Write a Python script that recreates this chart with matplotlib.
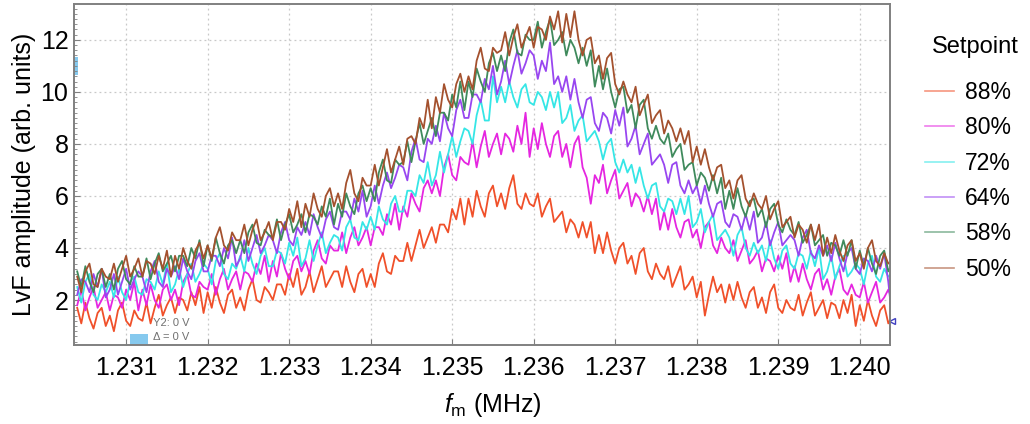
import numpy as np
import matplotlib
matplotlib.use("Agg")
import matplotlib.pyplot as plt
from matplotlib.patches import Rectangle
from matplotlib.ticker import MultipleLocator

plt.rcParams["font.family"] = ["Liberation Sans", "DejaVu Sans"]
plt.rcParams["mathtext.fontset"] = "custom"
plt.rcParams["mathtext.rm"] = "Liberation Sans"
plt.rcParams["mathtext.it"] = "Liberation Sans:italic"

# sweep: 201 points, 1.2304 .. 1.2404 MHz
f_start, f_stop, n_pts = 1.2304, 1.2404, 201
freq = np.linspace(f_start, f_stop, n_pts)

setpoints = ["88%", "80%", "72%", "64%", "58%", "50%"]
colors = ["#f0502a", "#e526e0", "#35e6e6", "#9846f0", "#3f8a5c", "#a4512e"]

amp_88 = [
    1.7, 1.1, 1.9, 1.3, 0.9, 1.5, 1.7, 1.0, 1.4, 0.8, 1.6, 1.9, 1.2, 1.0, 1.6, 1.3,
    1.2, 1.9, 1.1, 1.7, 2.2, 1.4, 1.8, 2.1, 1.5, 2.1, 2.0, 1.6, 2.3, 1.8, 2.5, 1.5,
    2.3, 1.7, 2.5, 1.9, 1.5, 2.2, 2.4, 1.7, 2.1, 1.6, 2.4, 2.8, 2.0, 1.9, 2.5, 2.3,
    2.0, 2.6, 2.6, 2.2, 3.0, 2.5, 3.2, 2.2, 2.5, 3.1, 2.3, 2.8, 3.3, 2.5, 2.8, 3.1,
    3.1, 2.5, 3.3, 2.7, 2.3, 3.0, 3.2, 2.5, 3.0, 2.5, 3.4, 3.8, 3.1, 3.0, 3.7, 3.5,
    3.5, 4.2, 3.5, 4.1, 4.7, 4.0, 4.4, 4.8, 4.2, 4.9, 4.9, 4.6, 5.5, 5.1, 5.9, 4.9,
    5.9, 5.2, 6.2, 5.6, 5.2, 6.1, 6.4, 5.6, 6.1, 5.5, 6.3, 6.8, 5.7, 5.5, 6.1, 5.7,
    5.6, 6.1, 5.2, 5.6, 5.9, 5.0, 5.2, 5.4, 4.6, 5.1, 4.9, 4.4, 5.0, 4.4, 5.0, 3.8,
    4.5, 3.8, 4.6, 3.9, 3.4, 4.0, 4.2, 3.4, 3.7, 3.0, 3.8, 4.0, 3.1, 2.8, 3.4, 3.0,
    2.8, 3.3, 2.5, 2.9, 3.3, 2.4, 2.6, 2.9, 2.1, 2.7, 1.4, 2.2, 2.9, 2.3, 2.6, 1.9,
    2.6, 2.0, 2.7, 2.1, 1.7, 2.3, 2.5, 1.7, 2.1, 1.5, 2.3, 2.6, 1.7, 1.5, 2.0, 1.7,
    1.6, 2.2, 1.4, 1.9, 2.3, 1.4, 1.7, 2.0, 1.3, 1.9, 1.8, 1.3, 2.0, 1.5, 2.2, 1.0,
    1.8, 1.2, 2.0, 1.4, 1.0, 1.6, 1.8, 1.1, 1.4,
]
amp_80 = [
    1.8, 2.4, 1.6, 2.1, 2.5, 1.7, 2.0, 2.3, 1.6, 2.2, 2.1, 1.7, 2.4, 2.0, 2.7, 1.6,
    2.4, 1.8, 2.6, 2.0, 1.7, 2.4, 2.6, 2.0, 2.4, 1.8, 2.7, 3.0, 2.2, 2.1, 2.7, 2.5,
    2.4, 3.0, 2.2, 2.8, 3.2, 2.4, 2.8, 3.1, 2.4, 3.1, 3.0, 2.7, 3.4, 3.0, 3.7, 2.7,
    3.5, 2.9, 3.8, 3.2, 2.8, 3.5, 3.7, 3.1, 3.5, 3.0, 3.9, 4.3, 3.6, 3.4, 4.1, 3.9,
    3.9, 4.6, 3.8, 4.4, 4.8, 4.1, 4.4, 4.8, 4.1, 4.8, 4.8, 4.5, 5.3, 4.9, 5.7, 4.7,
    5.6, 5.2, 6.1, 5.7, 5.4, 6.3, 6.6, 6.1, 6.6, 6.0, 7.1, 7.6, 6.8, 6.6, 7.5, 7.3,
    7.2, 8.1, 7.1, 7.9, 8.5, 7.5, 8.0, 8.4, 7.6, 8.4, 8.2, 7.7, 8.7, 8.0, 9.2, 7.5,
    8.6, 7.8, 8.8, 8.0, 7.5, 8.3, 8.5, 7.5, 8.0, 7.1, 8.0, 8.3, 7.1, 6.7, 5.7, 6.8,
    6.5, 7.2, 6.1, 6.6, 7.0, 5.9, 6.2, 6.5, 5.6, 6.1, 5.9, 5.4, 6.0, 5.3, 5.9, 4.7,
    5.4, 4.7, 5.5, 4.8, 4.4, 5.0, 5.1, 4.4, 4.7, 4.0, 4.8, 5.0, 4.1, 3.8, 4.4, 4.0,
    3.8, 4.3, 3.5, 3.9, 4.3, 3.4, 3.6, 3.9, 3.1, 3.6, 3.5, 3.1, 3.7, 3.2, 3.8, 2.7,
    3.3, 2.7, 3.4, 2.8, 2.4, 3.0, 3.2, 2.4, 2.8, 2.2, 2.9, 3.2, 2.4, 2.2, 2.6, 2.2,
    2.1, 2.7, 1.9, 2.3, 2.7, 1.9, 2.1, 2.4, 2.0,
]
amp_72 = [
    2.5, 1.9, 2.7, 3.0, 2.2, 2.0, 2.6, 2.3, 2.7, 2.1, 2.9, 2.3, 2.0, 2.7, 2.9, 2.3,
    2.2, 2.8, 2.7, 2.4, 3.1, 2.6, 3.4, 2.3, 2.6, 3.2, 2.5, 3.0, 3.4, 2.7, 3.0, 3.4,
    3.2, 2.6, 3.5, 3.8, 3.0, 2.8, 3.4, 3.2, 3.7, 3.1, 4.0, 3.4, 3.0, 3.7, 4.0, 3.3,
    3.3, 3.9, 3.8, 3.4, 4.2, 3.7, 4.4, 3.3, 3.6, 4.3, 3.5, 4.1, 4.6, 3.8, 4.2, 4.5,
    4.4, 3.9, 4.8, 5.1, 4.4, 4.3, 5.0, 4.7, 5.2, 4.7, 5.6, 5.1, 4.9, 5.7, 6.0, 5.4,
    5.4, 6.2, 6.2, 6.0, 6.8, 6.5, 7.3, 6.4, 6.8, 7.7, 6.9, 7.6, 8.3, 7.5, 8.1, 8.6,
    8.5, 8.0, 9.1, 9.7, 8.9, 8.9, 10.6, 9.6, 10.2, 9.6, 10.4, 9.8, 9.4, 10.1, 10.3, 9.6,
    9.5, 10.0, 9.8, 9.3, 10.0, 9.4, 10.0, 8.8, 9.0, 9.5, 8.5, 8.9, 9.1, 8.1, 8.3, 8.5,
    8.1, 7.4, 8.0, 8.2, 7.3, 6.9, 7.4, 6.9, 7.2, 6.5, 7.1, 6.4, 5.9, 6.4, 6.5, 5.6,
    5.4, 5.9, 5.8, 5.3, 5.9, 5.3, 6.0, 4.8, 5.0, 5.5, 4.6, 5.0, 5.3, 4.3, 4.5, 4.7,
    4.4, 3.7, 4.5, 4.8, 4.0, 3.7, 4.2, 3.8, 4.1, 3.5, 4.3, 3.6, 3.2, 3.9, 4.1, 3.4,
    3.2, 3.8, 3.7, 3.2, 3.9, 3.3, 4.0, 2.8, 3.1, 3.7, 2.8, 3.3, 3.7, 2.9, 3.1, 3.4,
    3.2, 2.6, 3.4, 3.7, 2.9, 2.7, 3.2, 2.9, 3.0,
]
amp_64 = [
    2.2, 2.8, 2.7, 2.3, 3.0, 2.5, 3.2, 2.1, 2.4, 3.0, 2.2, 2.7, 3.2, 2.4, 2.8, 3.1,
    2.9, 2.3, 3.1, 3.5, 2.7, 2.5, 3.2, 2.9, 3.3, 2.8, 3.6, 3.1, 2.8, 3.5, 3.8, 3.1,
    3.1, 3.7, 3.7, 3.3, 4.0, 3.6, 4.4, 3.3, 3.6, 4.3, 3.5, 4.0, 4.5, 3.8, 4.1, 4.5,
    4.3, 3.8, 4.6, 5.0, 4.3, 4.1, 4.8, 4.5, 5.0, 4.5, 5.3, 4.8, 4.4, 5.1, 5.4, 4.8,
    4.7, 5.4, 5.4, 5.1, 5.9, 5.4, 6.2, 5.2, 5.6, 6.4, 5.7, 6.4, 6.9, 6.3, 6.7, 7.2,
    7.1, 6.6, 7.7, 8.2, 7.4, 7.3, 8.2, 8.0, 8.7, 8.1, 9.2, 8.6, 8.3, 9.3, 9.7, 9.0,
    9.0, 9.9, 9.9, 9.6, 10.5, 10.1, 11.0, 9.9, 10.4, 11.2, 10.3, 11.0, 11.6, 10.7, 11.1, 11.6,
    11.4, 10.5, 11.2, 10.8, 11.9, 10.3, 10.6, 10.0, 10.6, 9.7, 10.5, 9.6, 9.0, 9.7, 9.8, 8.8,
    8.5, 9.2, 9.0, 8.4, 9.3, 8.7, 9.4, 7.9, 8.2, 8.7, 7.6, 8.0, 8.4, 7.2, 7.4, 7.6,
    7.2, 6.5, 7.2, 7.3, 6.4, 6.1, 6.6, 6.1, 6.4, 5.7, 6.4, 5.7, 5.2, 5.7, 5.8, 5.0,
    4.8, 5.3, 5.2, 4.7, 5.3, 4.7, 5.4, 4.2, 4.4, 5.0, 4.1, 4.6, 5.0, 4.1, 4.3, 4.5,
    4.3, 3.7, 4.4, 4.7, 3.8, 3.6, 4.1, 3.7, 4.1, 3.5, 4.2, 3.6, 3.1, 3.8, 4.0, 3.2,
    3.0, 3.6, 3.5, 3.1, 3.7, 3.2, 3.8, 2.7, 1.2,
]
amp_58 = [
    3.1, 2.5, 3.3, 2.7, 2.3, 3.0, 3.2, 2.5, 3.0, 2.4, 3.2, 3.5, 2.8, 2.6, 3.3, 2.9,
    2.9, 3.6, 2.8, 3.4, 3.8, 3.1, 3.4, 3.7, 3.1, 3.7, 3.7, 3.3, 4.0, 3.6, 4.3, 3.3,
    4.1, 3.5, 4.4, 3.8, 3.4, 4.1, 4.3, 3.8, 4.3, 3.8, 4.6, 4.9, 4.2, 4.1, 4.7, 4.5,
    4.4, 5.1, 4.3, 4.9, 5.3, 4.6, 4.9, 5.3, 4.6, 5.3, 5.2, 4.9, 5.6, 5.2, 5.9, 4.9,
    5.7, 5.2, 6.1, 5.6, 5.3, 6.1, 6.4, 5.8, 6.3, 5.8, 6.9, 7.4, 6.6, 6.5, 7.4, 7.2,
    7.3, 8.1, 7.3, 8.1, 8.8, 8.0, 8.5, 9.0, 8.3, 9.2, 9.2, 8.9, 9.9, 9.4, 10.4, 9.3,
    10.4, 9.8, 10.9, 10.4, 10.0, 11.1, 11.5, 10.8, 11.4, 10.8, 11.9, 12.4, 11.5, 11.4, 12.2, 12.0,
    12.0, 12.7, 11.7, 12.3, 12.8, 11.8, 12.0, 12.3, 11.4, 12.0, 11.7, 11.1, 11.7, 11.0, 11.6, 10.2,
    11.0, 10.1, 10.9, 10.0, 9.4, 10.1, 10.2, 9.2, 9.5, 8.6, 9.5, 9.7, 8.6, 8.2, 8.7, 8.2,
    8.0, 8.4, 7.5, 7.8, 8.0, 7.0, 7.2, 7.3, 6.4, 6.9, 6.7, 6.2, 6.8, 6.1, 6.7, 5.5,
    6.2, 5.5, 6.3, 5.6, 5.2, 5.8, 5.9, 5.2, 5.5, 4.8, 5.5, 5.7, 4.9, 4.6, 5.1, 4.7,
    4.5, 5.0, 4.2, 4.5, 4.9, 4.1, 4.3, 4.5, 3.7, 4.2, 4.1, 3.7, 4.3, 3.7, 4.3, 3.2,
    3.9, 3.3, 4.0, 3.4, 3.0, 3.7, 3.9, 3.1, 3.4,
]
amp_50 = [
    2.9, 2.3, 3.1, 3.4, 2.6, 2.5, 3.2, 2.9, 2.8, 3.4, 2.7, 3.2, 3.7, 2.9, 3.2, 3.6,
    2.9, 3.5, 3.4, 3.0, 3.7, 3.2, 3.9, 2.9, 3.7, 3.2, 4.0, 3.5, 3.2, 3.9, 4.2, 3.6,
    4.1, 3.6, 4.4, 4.8, 4.1, 3.9, 4.6, 4.3, 4.3, 4.9, 4.1, 4.7, 5.1, 4.3, 4.6, 5.0,
    4.3, 5.0, 5.0, 4.7, 5.5, 5.0, 5.8, 4.8, 5.7, 5.2, 6.1, 5.5, 5.2, 6.0, 6.3, 5.6,
    6.1, 5.5, 6.5, 7.0, 6.1, 5.8, 6.7, 6.4, 6.4, 7.2, 6.4, 7.1, 7.8, 6.9, 7.4, 7.9,
    7.2, 8.2, 8.3, 8.0, 9.0, 8.6, 9.7, 8.6, 9.8, 9.2, 10.3, 9.7, 9.4, 10.3, 10.7, 10.0,
    10.6, 10.1, 11.2, 11.7, 10.9, 10.8, 11.7, 11.5, 11.6, 12.3, 11.4, 12.1, 12.6, 11.7, 12.1, 12.5,
    11.7, 12.5, 12.4, 12.0, 12.9, 12.4, 13.1, 11.9, 13.0, 12.1, 13.1, 12.0, 11.4, 12.0, 12.1, 11.1,
    11.4, 10.5, 11.3, 11.5, 10.3, 9.9, 10.4, 9.9, 9.6, 10.2, 9.1, 9.5, 9.9, 8.8, 9.1, 9.3,
    8.4, 8.9, 8.6, 8.1, 8.6, 8.0, 8.5, 7.3, 7.9, 7.2, 7.8, 7.1, 6.6, 7.1, 7.2, 6.3,
    6.6, 5.9, 6.6, 6.8, 5.9, 5.6, 6.1, 5.7, 5.5, 6.0, 5.1, 5.5, 5.8, 4.8, 5.0, 5.2,
    4.4, 4.9, 4.7, 4.2, 4.9, 4.3, 4.9, 3.7, 4.4, 3.8, 4.5, 3.9, 3.5, 4.1, 4.3, 3.5,
    3.8, 3.2, 4.0, 4.3, 3.5, 3.3, 3.8, 3.4, 3.5,
]
series = [amp_88, amp_80, amp_72, amp_64, amp_58, amp_50]

fig = plt.figure(figsize=(10.3, 4.24), dpi=100)
ax = fig.add_axes([0.0718, 0.1863, 0.7922, 0.8043])

for label, col, amp in zip(setpoints, colors, series):
    ax.plot(freq, amp, color=col, lw=1.3, label=label)

ax.set_xlim(1.23036, 1.24037)
ax.set_ylim(0.27, 13.38)
ax.xaxis.set_major_locator(MultipleLocator(0.001))
ax.yaxis.set_minor_locator(MultipleLocator(0.2))
ax.xaxis.set_major_formatter(plt.FormatStrFormatter("%.3f"))
ax.yaxis.set_major_formatter(plt.FormatStrFormatter("%d"))
ax.set_yticks([2, 4, 6, 8, 10, 12])

ax.grid(True, which="major", color="#c8c8c8", ls=(0, (1.5, 2.5)), lw=0.9)
ax.tick_params(axis="both", which="major", direction="in", length=4,
               color="#808080", labelsize=18)
ax.tick_params(axis="x", which="major", pad=8)
ax.tick_params(axis="y", which="major", pad=4)
ax.tick_params(axis="y", which="minor", direction="in", length=2.5, color="#808080")
for sp in ax.spines.values():
    sp.set_color("#808080")
    sp.set_linewidth(1.4)

ax.set_ylabel("LvF amplitude (arb. units)", fontsize=18, labelpad=3)
ax.set_xlabel(r"$f_\mathrm{m}$ (MHz)", fontsize=18, labelpad=8, x=0.513)

# cursor readout left on the scope trace
ax.text(1.23133, 1.12, "Y2: 0 V", fontsize=8, color="#707070", va="center")
ax.text(1.23133, 0.58, "Δ = 0 V", fontsize=8, color="#707070", va="center")
ax.add_patch(Rectangle((1.23105, 0.27), 0.00022, 0.42, color="#86c9ee", lw=0, clip_on=False))
ax.add_patch(Rectangle((1.23036, 10.65), 0.00005, 0.7, color="#86c9ee", lw=0))
ax.plot([freq[-1]], [1.2], marker="<", ms=5, mfc="none", mec="#4040c0", clip_on=False)

# legend: title placed on its own, entries below it
fig.text(932 / 1030, 1 - 47 / 424, "Setpoint", fontsize=17, va="center", ha="left")
leg = fig.legend(loc="upper left", bbox_to_anchor=(925 / 1030, 1 - 81 / 424),
                 frameon=False, fontsize=16.5, borderpad=0, borderaxespad=0,
                 handlelength=1.25, handletextpad=0.5, labelspacing=0.54)
for h in leg.legend_handles:
    h.set_alpha(0.6)
    h.set_linewidth(1.2)

fig.savefig("out.png", dpi=100)
